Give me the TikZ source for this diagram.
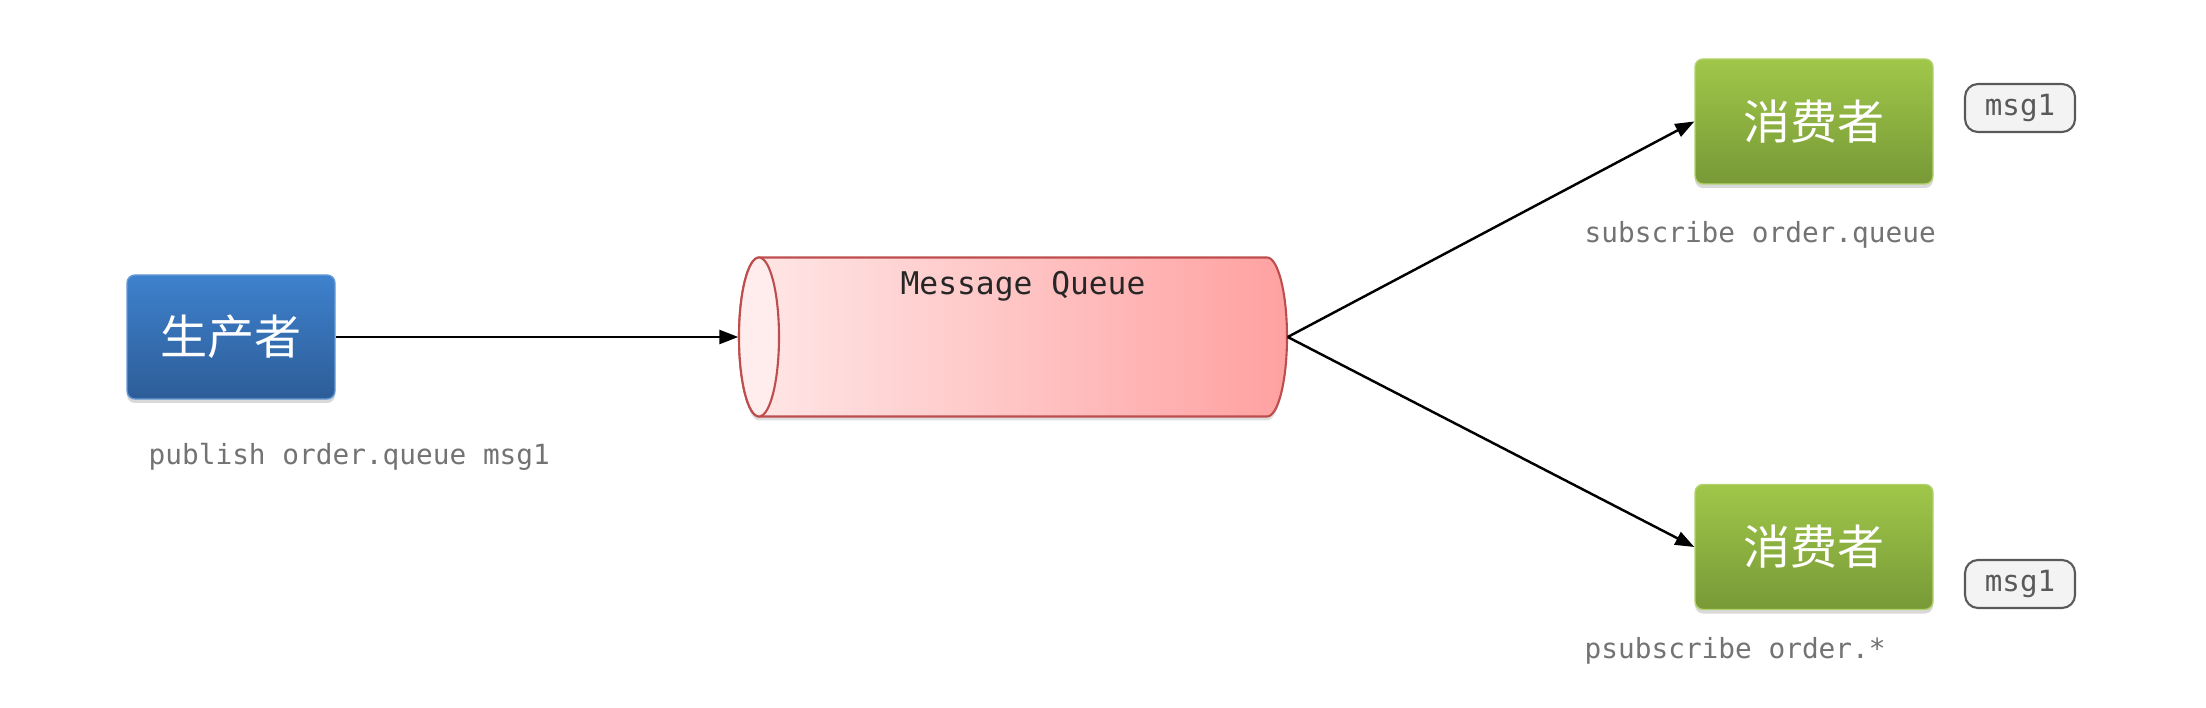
\documentclass[tikz,border=0pt]{standalone}
\usepackage{fontspec}
\setmonofont{DejaVu Sans Mono}
\newfontfamily\cjk{Noto Sans CJK SC}
\usetikzlibrary{arrows.meta,shadows}
\definecolor{prodtop}{RGB}{62,129,205}
\definecolor{prodbot}{RGB}{45,93,152}
\definecolor{constop}{RGB}{160,199,73}
\definecolor{consbot}{RGB}{120,153,55}
\definecolor{mqleft}{RGB}{255,232,232}
\definecolor{mqright}{RGB}{255,161,161}
\definecolor{mqend}{RGB}{255,236,236}
\definecolor{mqline}{RGB}{190,78,78}
\definecolor{cmdgray}{RGB}{115,115,115}
\definecolor{tagfill}{RGB}{243,243,243}
\tikzset{
  role/.style={rounded corners=0.08cm,text=white,inner sep=0,
    font=\cjk\fontsize{13.4}{16}\selectfont,
    drop shadow={opacity=0.3,shadow xshift=0cm,shadow yshift=-0.04cm}},
  prodbox/.style={role,top color=prodtop,bottom color=prodbot,draw=prodtop!80!white,
    minimum width=2.08cm,minimum height=1.24cm},
  consbox/.style={role,top color=constop,bottom color=consbot,draw=constop!80!white,
    minimum width=2.38cm,minimum height=1.25cm},
  tag/.style={draw=black!65,fill=tagfill,rounded corners=0.13cm,line width=0.6pt,
    minimum width=1.10cm,minimum height=0.48cm,inner sep=0,text=black!65,
    font=\ttfamily\fontsize{8.3}{10}\selectfont},
  cmd/.style={anchor=base west,inner sep=0,text=cmdgray},
  link/.style={->,line width=0.7pt}
}
\begin{document}
\begin{tikzpicture}[line join=round,font=\ttfamily\fontsize{7.9}{9}\selectfont,
  >={Triangle[length=0.19cm,width=0.14cm]}]
\useasboundingbox (0,0) rectangle (22.06,7.07);
\def\rx{0.20}
\def\ry{0.795}
\path
(7.59,3.70) coordinate (L)
(7.59,4.495) coordinate (Lt)
(12.67,4.495) coordinate (Rt)
(7.59,2.905) coordinate (Lb)
;
% queue body and its front end
\path[left color=mqleft,right color=mqright,draw=mqline,line width=0.6pt,
  drop shadow={opacity=0.25,shadow xshift=0cm,shadow yshift=-0.04cm}]
  (Lt) -- (Rt) arc[start angle=90,end angle=-90,x radius=\rx,y radius=\ry]
  -- (Lb) arc[start angle=270,end angle=90,x radius=\rx,y radius=\ry] -- cycle;
\draw[mqline,fill=mqend,line width=0.6pt] (L) ellipse[x radius=\rx,y radius=\ry];
\node[minimum width=5.48cm,minimum height=1.59cm,inner sep=0] (mq) at (10.13,3.70) {};
\node[font=\ttfamily\fontsize{8.9}{10}\selectfont,text=black!85] (mqname) at (10.23,4.21) {Message Queue};

\node[prodbox] (prod) at (2.31,3.70) {生产者};
\node[consbox] (cons1) at (18.14,5.855) {消费者};
\node[consbox] (cons2) at (18.14,1.60) {消费者};
\node[tag] (msgA) at (20.20,5.99) {msg1};
\node[tag] (msgB) at (20.20,1.23) {msg1};

\node[cmd] (pub) at (1.48,2.43) {publish order.queue msg1};
\node[cmd] (sub) at (15.84,4.64) {subscribe order.queue};
\node[cmd] (psub) at (15.84,0.49) {psubscribe order.*};

\draw[link] (prod.east) -- (mq.west);
\draw[link] (mq.east) -- (cons1.west);
\draw[link] (mq.east) -- (cons2.west);
\end{tikzpicture}
\end{document}
